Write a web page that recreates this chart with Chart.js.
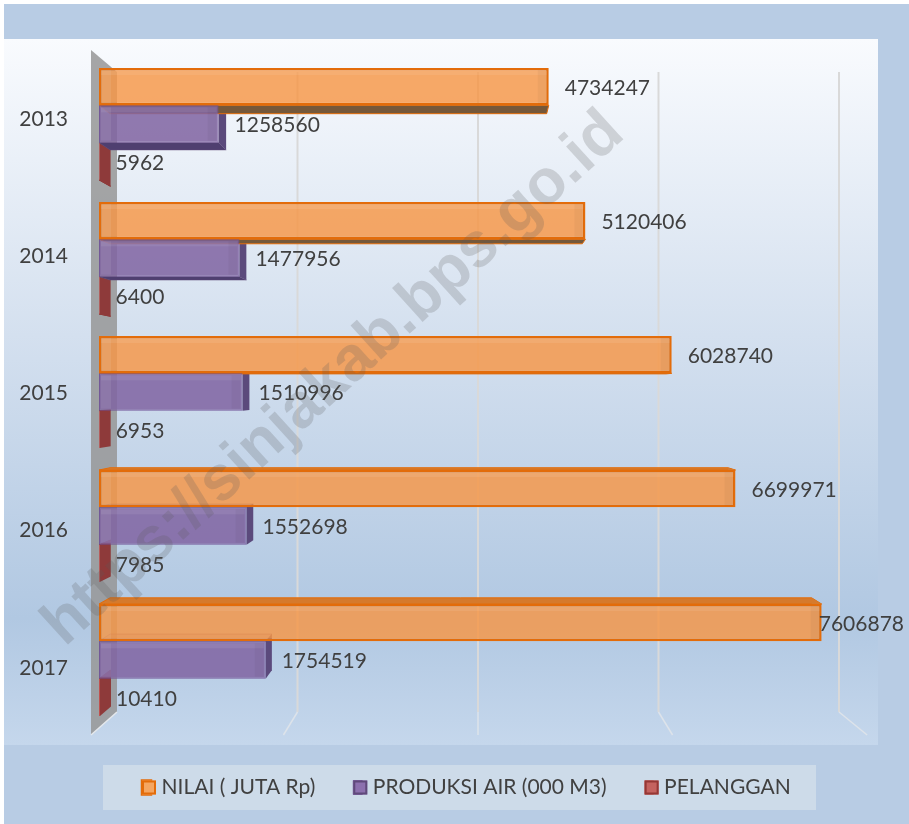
<!DOCTYPE html>
<html><head><meta charset="utf-8">
<style>html,body{margin:0;padding:0;background:#fff}canvas{display:block}</style>
<script src="https://cdn.jsdelivr.net/npm/chart.js@4"></script>
</head><body><canvas id="c" width="909" height="824"></canvas>
<script>
const years = ['2013','2014','2015','2016','2017'];
const nilai = [4734247,5120406,6028740,6699971,7606878];
const produksi = [1258560,1477956,1510996,1552698,1754519];
const pelanggan = [5962,6400,6953,7985,10410];
const FONT = 'Lato';
const TEXT = '#404040';
const VP = {x:478,y:392};
const DEPTH = 1.03;
const faces = [
 {under:'#75583A',top:'#D67A2C',side:'#C9701F',edge:'#E36C0A'},
 {under:'#4F3F70',top:'rgba(122,96,160,.25)',side:'#5B4A7C',edge:'rgba(95,73,122,.5)'},
 {under:'#7E3232',top:'#8E3A3A',side:'#8E3A3A',edge:'#8E3A3A'}
];
function back(px,py){return [VP.x+(px-VP.x)/DEPTH, VP.y+(py-VP.y)/DEPTH];}
function quad(ctx,pts,fill,stroke){
  ctx.beginPath();pts.forEach((p,i)=>i?ctx.lineTo(p[0],p[1]):ctx.moveTo(p[0],p[1]));ctx.closePath();
  ctx.fillStyle=fill;ctx.fill();
  if(stroke){ctx.strokeStyle=stroke;ctx.lineWidth=1;ctx.stroke();}
}
const scene = {
  id:'scene',
  beforeDraw(chart){
    const c=chart.ctx;
    c.save();
    c.fillStyle='#fff';c.fillRect(0,0,909,824);
    c.fillStyle='#B8CCE4';c.fillRect(4,4,905,820);
    const g=c.createLinearGradient(0,39,0,745);
    g.addColorStop(0,'#F9FBFE');g.addColorStop(.42,'#D4E0EF');g.addColorStop(.82,'#B1C8E2');g.addColorStop(1,'#C5D7EC');
    c.fillStyle=g;c.fillRect(4,39,874,706);
    c.fillStyle='#CDDBE9';c.fillRect(103,765,713,45);
    c.restore();
  },
  beforeDatasetsDraw(chart){
    const c=chart.ctx,a=chart.chartArea,x=chart.scales.x;
    c.save();
    const backLeft=a.left+18, top=a.top+15, bottom=a.bottom-15, frontY=bottom+23;
    x.ticks.forEach(t=>{
      if(t.value===0) return;
      const bx=backLeft+(x.getPixelForValue(t.value)-a.left)*0.95;
      const fx=VP.x+(bx-VP.x)*1.078;
      c.strokeStyle='#D9D9D9';c.lineWidth=2;c.beginPath();c.moveTo(bx,top);c.lineTo(bx,bottom);c.stroke();
      c.strokeStyle='#DDE3EA';c.lineWidth=1.5;c.beginPath();c.moveTo(bx,bottom);c.lineTo(fx,frontY);c.stroke();
    });
    quad(c,[[a.left-8,a.top-7],[backLeft,top],[backLeft,bottom],[a.left-8,frontY]],'rgba(150,150,150,.85)');
    c.strokeStyle='#E4E8EC';c.lineWidth=1.5;c.beginPath();c.moveTo(backLeft,bottom);c.lineTo(a.left-8,frontY);c.stroke();
    [2,1,0].forEach(ds=>{
      const f=faces[ds];
      chart.getDatasetMeta(ds).data.forEach(b=>{
        const L=b.base,R=b.x,T=b.y-b.height/2,B=b.y+b.height/2;
        const [bLx,bTy]=back(L,T),[bRx,bBy]=back(R,B);
        if(T>VP.y) quad(c,[[L,T],[R,T],[bRx,bTy],[bLx,bTy]],f.top,f.edge);
        if(B<VP.y) quad(c,[[L,B],[R,B],[bRx,bBy],[bLx,bBy]],f.under,f.edge);
        if(R<VP.x) quad(c,[[R,T],[bRx,bTy],[bRx,bBy],[R,B]],f.side);
        else if(T>VP.y) quad(c,[[R,T],[bRx,bTy],[bRx,T]],f.top);
      });
    });
    c.restore();
  },
  afterDatasetsDraw(chart){
    const c=chart.ctx;
    c.save();
    [0,1].forEach(ds=>chart.getDatasetMeta(ds).data.forEach(b=>{
      const T=b.y-b.height/2,L=b.base,R=b.x;
      c.fillStyle='rgba(255,255,255,.08)';
      c.fillRect(L+2,T+2,R-L-4,5);
      c.fillRect(L+2,T+2,10,b.height-4);
      c.fillStyle='rgba(0,0,0,.035)';
      c.fillRect(R-11,T+2,9,b.height-4);
    }));
    c.font='21px '+FONT;c.fillStyle=TEXT;c.textBaseline='middle';c.textAlign='left';
    chart.data.datasets.forEach((d,ds)=>{
      chart.getDatasetMeta(ds).data.forEach((b,i)=>{
        const s=String(d.data[i]),w=c.measureText(s).width;
        c.fillText(s,Math.min(b.x+16,904-w),b.y+1.5);
      });
    });
    c.restore();
  },
  afterLayout(chart){
    const l=chart.legend;
    l.left=104;l.right=905;l.top=739;l.bottom=824;l.width=801;l.height=85;
  },
  afterDraw(chart){
    const c=chart.ctx,l=chart.legend;
    c.save();
    l.legendHitBoxes.forEach((h,i)=>{
      c.fillStyle=['#F5A661','#8C70AE','#C4625F'][i];
      c.strokeStyle=['#E36C0A','#5F497A','#953735'][i];
      c.lineWidth=2;
      c.fillRect(h.left,h.top+h.height/2-7,14,14);
      c.strokeRect(h.left+1,h.top+h.height/2-6,12,12);
    });
    c.translate(334,379);c.rotate(-42.3*Math.PI/180);
    c.font='bold 63px "Liberation Sans"';c.textAlign='center';c.textBaseline='middle';
    c.fillStyle='rgba(90,90,90,.22)';
    c.fillText('https://sinjakab.bps.go.id',0,0);
    c.restore();
  }
};
new Chart(document.getElementById('c'),{
  type:'bar',
  data:{labels:years,datasets:[
    {label:'NILAI ( JUTA Rp)',data:nilai,backgroundColor:'rgba(247,150,70,.82)',borderColor:'#E36C0A',borderWidth:2.5,borderSkipped:false},
    {label:'PRODUKSI AIR (000 M3)',data:produksi,backgroundColor:'rgba(128,100,162,.86)',borderColor:'rgba(110,80,150,.9)',borderWidth:1,borderSkipped:false},
    {label:'PELANGGAN',data:pelanggan,backgroundColor:'#C0504D',borderWidth:0}
  ]},
  options:{
    indexAxis:'y',responsive:false,animation:false,
    datasets:{bar:{categoryPercentage:112/134,barPercentage:1}},
    layout:{padding:{left:0,top:57,right:50,bottom:57}},
    scales:{
      x:{type:'linear',display:false,min:0,max:8000000,ticks:{stepSize:2000000}},
      y:{type:'category',display:false,offset:true,grid:{display:false}},
      y2:{type:'linear',axis:'y',position:'left',reverse:true,offset:false,min:-0.451,max:4.430,
        grid:{display:false,drawTicks:false,offset:false},border:{display:false},
        afterBuildTicks(s){s.ticks=years.map((_,i)=>({value:i}));},
        afterFit(s){s.width=99;},
        ticks:{padding:31,autoSkip:false,color:TEXT,font:{family:FONT,size:21},callback:v=>years[v]}}
    },
    plugins:{
      tooltip:{enabled:false},
      legend:{position:'bottom',align:'start',maxHeight:40,
        labels:{boxWidth:9,boxHeight:14,padding:38,color:TEXT,font:{family:FONT,size:21}}}
    }
  },
  plugins:[scene]
});
</script></body></html>
